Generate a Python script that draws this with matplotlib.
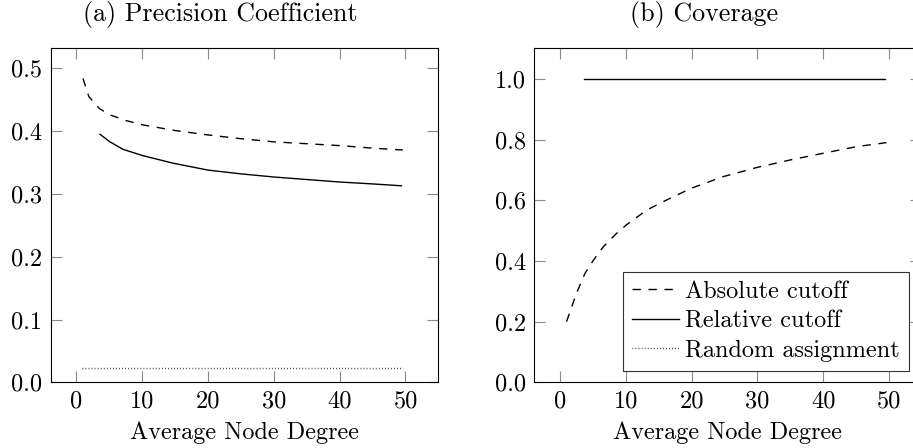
import matplotlib
matplotlib.use("Agg")
import matplotlib.pyplot as plt
from matplotlib.ticker import FixedLocator, FormatStrFormatter

plt.rcParams['font.family'] = ['cmr10', 'DejaVu Serif']
plt.rcParams['mathtext.fontset'] = 'cm'
plt.rcParams['axes.formatter.use_mathtext'] = True

# Data
abs_x = [1.0, 1.9, 3.5, 5.1, 7.5, 10.1, 15, 20, 25, 30, 35, 40, 45, 49.6]
abs_prec = [0.484, 0.455, 0.436, 0.426, 0.417, 0.410, 0.401, 0.394, 0.388, 0.383, 0.380, 0.377, 0.373, 0.370]
rel_x = [3.6, 5.1, 7.1, 10.1, 14.7, 20, 25, 30, 35, 40, 45, 49.4]
rel_prec = [0.395, 0.383, 0.371, 0.361, 0.349, 0.338, 0.332, 0.327, 0.323, 0.319, 0.316, 0.313]
rand_x = [0.9, 49.7]
rand_prec = [0.022, 0.022]

cov_abs_x = [1.0, 2.5, 3.8, 5.1, 6.6, 8.6, 10.1, 13.2, 16.2, 20, 24.8, 29.9, 35, 40, 45.1, 49.6]
cov_abs = [0.20, 0.293, 0.359, 0.403, 0.447, 0.491, 0.519, 0.568, 0.601, 0.640, 0.678, 0.708, 0.733, 0.755, 0.777, 0.790]
cov_rel_x = [3.65, 49.4]
cov_rel = [1.0, 1.0]

xticks = [0, 10, 20, 30, 40, 50]
yticks_a = [0.0, 0.1, 0.2, 0.3, 0.4, 0.5]
yticks_b = [0.0, 0.2, 0.4, 0.6, 0.8, 1.0]

W, H = 913, 448
fig = plt.figure(figsize=(W / 100, H / 100), dpi=100)

FS = 17.5
TICKC = '#8a8a8a'

def setup(ax, yticks, ylim):
    ax.set_xlim(-3.9, 54.9)
    ax.set_ylim(*ylim)
    ax.xaxis.set_major_locator(FixedLocator(xticks))
    ax.yaxis.set_major_locator(FixedLocator(yticks))
    ax.yaxis.set_major_formatter(FormatStrFormatter('%.1f'))
    ax.xaxis.set_major_formatter(FormatStrFormatter('%d'))
    ax.tick_params(direction='in', length=7.9, width=0.8, color=TICKC,
                   top=True, right=True, labelsize=FS, pad=6)
    for s in ax.spines.values():
        s.set_linewidth(0.8)
        s.set_color('black')
    ax.set_xlabel('Average Node Degree', fontsize=FS, labelpad=6)

lw = 1.0
dash = (0, (6.0, 5.5))
dot = (0, (0.5, 1.7))

axA = fig.add_axes([50.7 / W, (H - 382.3) / H, 387 / W, 334 / H])
setup(axA, yticks_a, (0, 0.532))
axA.plot(abs_x, abs_prec, color='black', lw=lw, linestyle=dash)
axA.plot(rel_x, rel_prec, color='black', lw=lw)
axA.plot(rand_x, rand_prec, color='black', lw=lw, linestyle=dot)

axB = fig.add_axes([534.3 / W, (H - 382.3) / H, 387 / W, 334 / H])
setup(axB, yticks_b, (0, 1.101))
l1, = axB.plot(cov_abs_x, cov_abs, color='black', lw=lw, linestyle=dash, label='Absolute cutoff')
l2, = axB.plot(cov_rel_x, cov_rel, color='black', lw=lw, label='Relative cutoff')
l3, = axB.plot([], [], color='black', lw=lw, linestyle=dot, label='Random assignment')

leg = axB.legend(handles=[l1, l2, l3], loc='lower right',
                 bbox_to_anchor=(909.3 / W, (H - 371) / H),
                 bbox_transform=fig.transFigure, borderaxespad=0,
                 fontsize=FS, frameon=True, fancybox=False,
                 handlelength=1.95, handletextpad=0.25, labelspacing=0.3,
                 borderpad=0.38)
leg.get_frame().set_edgecolor('black')
leg.get_frame().set_linewidth(0.8)

fig.text(220 / W, 1 - 15 / H, '(a) Precision Coefficient', fontsize=18.7,
         ha='center', va='center')
fig.text(704 / W, 1 - 15 / H, '(b) Coverage', fontsize=18.7,
         ha='center', va='center')

fig.savefig('out.png', dpi=100)
